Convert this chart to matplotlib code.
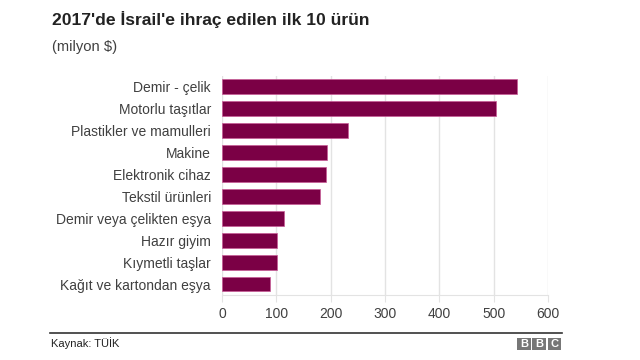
import matplotlib.pyplot as plt
from matplotlib.lines import Line2D
from matplotlib.patches import Rectangle

plt.rcParams['font.family'] = ['Liberation Sans', 'DejaVu Sans']

products = ['Demir - çelik', 'Motorlu taşıtlar', 'Plastikler ve mamulleri', 'Makine',
            'Elektronik cihaz', 'Tekstil ürünleri', 'Demir veya çelikten eşya',
            'Hazır giyim', 'Kıymetli taşlar', 'Kağıt ve kartondan eşya']
values = [543, 504, 232, 194, 192, 181, 115, 102, 102, 89]
xticks = [0, 100, 200, 300, 400, 500, 600]

bar_color = '#7b0045'
grid_color = '#e3e3e3'
text_color = '#404040'

fig = plt.figure(figsize=(6.4, 3.6), dpi=100)
ax = fig.add_axes([222 / 640, 1 - 295 / 360, 326 / 640, 219 / 360])

ypos = list(range(len(products)))
ax.barh(ypos, values, height=0.68, color=bar_color, edgecolor='#c85a96', linewidth=0.5, zorder=3)
ax.set_ylim(9.5, -0.48)
ax.set_xlim(0, 600)
ax.set_yticks(ypos)
ax.set_yticklabels(products, fontsize=10, color=text_color)
ax.set_xticks(xticks)
ax.set_xticklabels([str(t) for t in xticks], fontsize=10, color=text_color)
ax.tick_params(axis='y', length=0, pad=8)
ax.tick_params(axis='x', length=5, color=grid_color, pad=4)
ax.grid(axis='x', color=grid_color, linewidth=1, zorder=0)
for s in ['top', 'right', 'left']:
    ax.spines[s].set_visible(False)
ax.spines['bottom'].set_color(grid_color)

fig.text(52 / 640, 1 - 20 / 360, "2017'de İsrail'e ihraç edilen ilk 10 ürün",
         fontsize=12.6, fontweight='bold', color='#222222', va='center', ha='left')
fig.text(52 / 640, 1 - 47 / 360, '(milyon $)', fontsize=10.6, color=text_color,
         va='center', ha='left')

fig.add_artist(Line2D([50 / 640, 562 / 640], [1 - 332.5 / 360, 1 - 332.5 / 360],
                      color='#333333', linewidth=1.2, transform=fig.transFigure))
fig.text(51 / 640, 1 - 343.5 / 360, 'Kaynak: TÜİK', fontsize=8, color='#222222',
         va='center', ha='left')

# BBC logo
for i, letter in enumerate('BBC'):
    x0 = (517 + i * 15.3) / 640
    fig.add_artist(Rectangle((x0, 1 - 350 / 360), 13.8 / 640, 12.5 / 360,
                             facecolor='#777777', edgecolor='none', transform=fig.transFigure))
    fig.text(x0 + 6.9 / 640, 1 - 343.8 / 360, letter, fontsize=8, fontweight='bold',
             color='white', ha='center', va='center')

fig.savefig('out.png', dpi=100)
